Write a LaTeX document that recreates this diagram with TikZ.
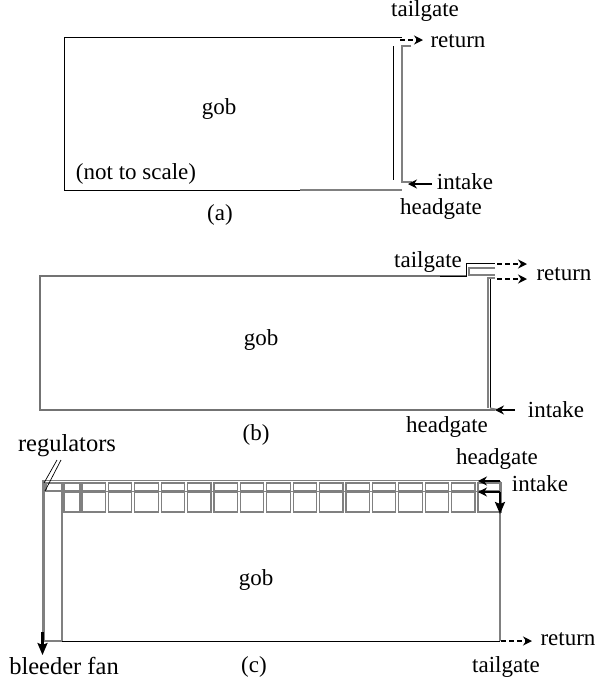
\documentclass[tikz,border=0pt]{standalone}
\usepackage{fontspec}
\setmainfont{Liberation Serif}
\usetikzlibrary{arrows.meta}
\tikzset{
  lbl/.style={inner sep=0pt,font=\fontsize{23}{25}\selectfont},
  biglbl/.style={inner sep=0pt,font=\fontsize{24.5}{26}\selectfont},
  thin line/.style={draw=black,line width=1pt},
  gray line/.style={draw=black!50,line width=1.6pt},
  cell/.style={draw=black!50,line width=1.3pt},
  dash arrow/.style={draw=black,line width=1.8pt,dash pattern=on 5pt off 3pt,-{Stealth[length=9pt,width=9pt,inset=3pt]}},
  solid arrow/.style={draw=black,line width=1.8pt,-{Stealth[length=9pt,width=9pt,inset=3pt]}},
  heavy arrow/.style={draw=black,line width=2.2pt,-{Stealth[length=12pt,width=10pt,inset=2pt]}}
}
\begin{document}
\begin{tikzpicture}[x=1pt,y=-1pt]
\useasboundingbox (0,0) rectangle (596,681);
% (a)
\draw[thin line] (402,37) -- (64,37) -- (64,190) -- (300,190);
\draw[gray line,line width=1.2pt] (300,190) -- (402,190);
\draw[thin line] (393,46) -- (393,180);
\draw[gray line] (411,46) -- (402,46) -- (402,182) -- (412,182);
\node[lbl] (ta) at (425,11) {tailgate};
\node[lbl] (ra) at (458,41) {return};
\node[lbl] (ia) at (465,182) {intake};
\node[lbl] (ha) at (441,209) {headgate};
\node[lbl] (ga) at (219,109) {gob};
\node[lbl] (ns) at (136,174) {(not to scale)};
\node[lbl] (la) at (220,215) {(a)};
\coordinate (a1) at (400,40);
\coordinate (a4) at (423,40);
\coordinate (a2) at (432,184);
\coordinate (a3) at (408,184);
\draw[dash arrow,line width=1.3pt] (a1) -- (a4);
\draw[solid arrow,line width=1.3pt] (a2) -- (a3);
% (b)
\draw[draw=black!55,line width=1.1pt] (466,276) -- (40,276) -- (40,410) -- (495,410);
\draw[thin line] (440,276) -- (466,276) -- (466,263) -- (495,263);
\draw[gray line] (495,268) -- (469,268) -- (469,275) -- (495,275);
\draw[gray line,line width=1.2pt] (495,278) -- (488,278) -- (488,408);
\draw[thin line] (490,279) -- (490,408);
\draw[gray line,line width=1.2pt] (490,408) -- (500,410);
\node[lbl] (tb) at (428,262) {tailgate};
\node[lbl] (rb) at (564,274) {return};
\node[lbl] (ib) at (556,410) {intake};
\node[lbl] (hb) at (447,427) {headgate};
\node[lbl] (gb) at (261,340) {gob};
\node[lbl] (lb) at (256,435) {(b)};
\coordinate (b1) at (497,264);
\coordinate (b2) at (527,264);
\coordinate (b3) at (497,279);
\coordinate (b4) at (527,279);
\coordinate (b5) at (515,410);
\coordinate (b6) at (495,410);
\draw[dash arrow] (b1) -- (b2);
\draw[dash arrow] (b3) -- (b4);
\draw[solid arrow] (b5) -- (b6);
% (c)
\draw[gray line,line width=2.6pt] (500,641) -- (500,480.5);
\draw[gray line] (500,480.5) -- (43.5,480.5);
\draw[gray line,line width=3pt] (43.5,480) -- (43.5,641);
\draw[gray line,line width=1.2pt] (43.5,641) -- (62,641) -- (62,492);
\draw[thin line] (62,641) -- (500,641);
\draw[cell] (46,483) rectangle (62,491);
\draw[cell] (64,483) rectangle (80,491);
\draw[cell] (64,492) rectangle (80,512);
\foreach \k in {0,...,15}{
  \pgfmathsetmacro{\xa}{82+26.4*\k}
  \pgfmathsetmacro{\xb}{\xa+23.4}
  \draw[cell] (\xa,483) rectangle (\xb,491);
  \draw[cell] (\xa,492) rectangle (\xb,512);
}
\draw[gray line] (44,491.5) -- (500,491.5);
\node[biglbl] (reg) at (67,446) {regulators};
\node[lbl] (hc) at (497,459) {headgate};
\node[lbl] (ic) at (540,484) {intake};
\node[lbl] (gc) at (256,580) {gob};
\node[biglbl] (bf) at (64,666) {bleeder fan};
\node[lbl] (lc) at (254,667) {(c)};
\node[lbl] (tc) at (506,667) {tailgate};
\node[lbl] (rc) at (568,639) {return};
\coordinate (r1) at (61,460);
\coordinate (r2) at (45,491);
\coordinate (r3) at (57,460);
\coordinate (r4) at (44,483);
\draw[black,line width=0.7pt] (r1) -- (r2);
\draw[black,line width=0.7pt] (r3) -- (r4);
\coordinate (c1) at (500,481);
\coordinate (c2) at (478,481);
\coordinate (c3) at (500,492);
\coordinate (c4) at (478,492);
\coordinate (c5) at (500,514);
\coordinate (c6) at (42.5,632);
\coordinate (c7) at (42.5,655);
\coordinate (c8) at (501,641);
\coordinate (c9) at (532,641);
\draw[solid arrow] (c1) -- (c2);
\draw[solid arrow,line width=1.2pt] (c3) -- (c4);
\draw[heavy arrow] (c3) -- (c5);
\draw[heavy arrow] (c6) -- (c7);
\draw[dash arrow] (c8) -- (c9);
\end{tikzpicture}
\end{document}
